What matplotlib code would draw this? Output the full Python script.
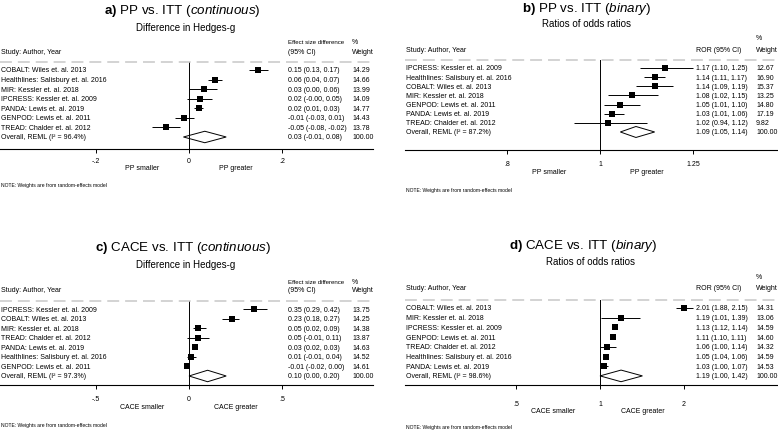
"""Four-panel forest plot: PP / CACE vs. ITT."""

import numpy as np
import matplotlib
matplotlib.use('Agg')
import matplotlib.pyplot as plt  # noqa: E402
from matplotlib.patches import Polygon  # noqa: E402
from matplotlib.ticker import FixedLocator, NullLocator  # noqa: E402
from matplotlib.transforms import blended_transform_factory  # noqa: E402

# ----------------------------------------------------------------------------
# Data (last entry of each panel is the pooled REML estimate)

a_labels = ['COBALT: Wiles et. al. 2013',
            'Healthlines: Salisbury et. al. 2016',
            'MIR: Kessler et. al. 2018',
            'IPCRESS: Kessler et. al. 2009',
            'PANDA: Lewis et. al. 2019',
            'GENPOD: Lewis et. al. 2011',
            'TREAD: Chalder et. al. 2012',
            'Overall, REML (I\u00b2 = 96.4%)']
a_est = [0.148, 0.056, 0.033, 0.024, 0.021, -0.011, -0.050, 0.034]
a_lo = [0.13, 0.04, 0.00, -0.004, 0.01, -0.03, -0.08, -0.012]
a_hi = [0.17, 0.07, 0.06, 0.05, 0.03, 0.01, -0.02, 0.08]
a_weight = [14.29, 14.66, 13.99, 14.09, 14.77, 14.43, 13.78, 100.00]

b_labels = ['IPCRESS: Kessler et. al. 2009',
            'Healthlines: Salisbury et. al. 2016',
            'COBALT: Wiles et. al. 2013',
            'MIR: Kessler et. al. 2018',
            'GENPOD: Lewis et. al. 2011',
            'PANDA: Lewis et. al. 2019',
            'TREAD: Chalder et. al. 2012',
            'Overall, REML (I\u00b2 = 87.2%)']
b_est = [1.17, 1.14, 1.14, 1.08, 1.05, 1.03, 1.02, 1.09]
b_lo = [1.10, 1.11, 1.09, 1.02, 1.01, 1.01, 0.94, 1.05]
b_hi = [1.25, 1.17, 1.19, 1.15, 1.10, 1.06, 1.12, 1.14]
b_weight = [12.67, 16.90, 15.37, 13.25, 14.80, 17.19, 9.82, 100.00]

c_labels = ['IPCRESS: Kessler et. al. 2009',
            'COBALT: Wiles et. al. 2013',
            'MIR: Kessler et. al. 2018',
            'TREAD: Chalder et. al. 2012',
            'PANDA: Lewis et. al. 2019',
            'Healthlines: Salisbury et. al. 2016',
            'GENPOD: Lewis et. al. 2011',
            'Overall, REML (I\u00b2 = 97.3%)']
c_est = [0.35, 0.23, 0.05, 0.05, 0.03, 0.01, -0.01, 0.10]
c_lo = [0.29, 0.18, 0.02, -0.01, 0.02, -0.01, -0.02, 0.00]
c_hi = [0.42, 0.27, 0.09, 0.11, 0.03, 0.04, 0.00, 0.20]
c_weight = [13.75, 14.25, 14.38, 13.87, 14.63, 14.52, 14.61, 100.00]

d_labels = ['COBALT: Wiles et. al. 2013',
            'MIR: Kessler et. al. 2018',
            'IPCRESS: Kessler et. al. 2009',
            'GENPOD: Lewis et. al. 2011',
            'TREAD: Chalder et. al. 2012',
            'Healthlines: Salisbury et. al. 2016',
            'PANDA: Lewis et. al. 2019',
            'Overall, REML (I\u00b2 = 98.6%)']
d_est = [2.01, 1.19, 1.13, 1.11, 1.06, 1.05, 1.03, 1.19]
d_lo = [1.88, 1.01, 1.12, 1.10, 1.00, 1.04, 1.00, 1.00]
d_hi = [2.15, 1.39, 1.14, 1.11, 1.14, 1.06, 1.07, 1.42]
d_weight = [14.31, 13.06, 14.59, 14.60, 14.32, 14.59, 14.53, 100.00]

a_ticks, a_ticklabels = [-0.2, 0, 0.2], ['-.2', '0', '.2']
b_ticks, b_ticklabels = [0.8, 1, 1.25], ['.8', '1', '1.25']
c_ticks, c_ticklabels = [-0.5, 0, 0.5], ['-.5', '0', '.5']
d_ticks, d_ticklabels = [0.5, 1, 2], ['.5', '1', '2']

NOTE = 'NOTE: Weights are from random-effects model'

# ----------------------------------------------------------------------------
# Style

W, H = 778, 431
plt.rcParams['font.family'] = ['Liberation Sans', 'DejaVu Sans']
plt.rcParams['mathtext.fontset'] = 'custom'
plt.rcParams['mathtext.rm'] = 'Liberation Sans'
plt.rcParams['mathtext.it'] = 'Liberation Sans:italic'
plt.rcParams['mathtext.bf'] = 'Liberation Sans:bold'

FS = 5.0


def fx(x):
    return x / W


def fy(y):
    return 1 - y / H


def draw_panel(fig, g, labels, est, lo, hi, wt, ticks, ticklabels):
    """Draw one forest plot; g holds the pixel geometry of the panel."""
    x0, x1, top, bot = g['x0'], g['x1'], g['top'], g['bot']
    ax = fig.add_axes([fx(x0), fy(bot), (x1 - x0) / W, (bot - top) / H])

    # Rows: row i sits at pixel row0 + i * step
    ytop = (top - g['row0']) / g['step']
    ybot = (bot - g['row0']) / g['step']
    ax.set_ylim(ybot, ytop)

    # x-limits from null-line pixel and pixels per unit
    lims = ((x0 - g['null']) / g['scale'], (x1 - g['null']) / g['scale'])
    if g['log']:
        ax.set_xscale('log')
        ax.set_xlim(np.exp(lims[0]), np.exp(lims[1]))
        null = 1
    else:
        ax.set_xlim(*lims)
        null = 0

    n = len(labels)
    wmax = max(wt[:-1])
    for i in range(n - 1):
        ax.hlines(i, lo[i], hi[i], color='black', lw=0.7)
        side = g['msize'] * np.sqrt(wt[i] / wmax) * 0.72
        ax.plot(est[i], i, 's', color='black', ms=side, mew=0)

    # Pooled diamond
    r = n - 1
    h = 0.6
    ax.add_patch(Polygon([(lo[r], r), (est[r], r - h), (hi[r], r),
                          (est[r], r + h)], closed=True, fc='white',
                         ec='black', lw=0.7))

    ax.axvline(null, color='black', lw=0.7)
    ax.axhline(ytop, color='#c8c8c8', lw=1.1, ls=(0, (7.8, 3.9)),
               clip_on=False)

    for s in ['top', 'left', 'right']:
        ax.spines[s].set_visible(False)
    ax.spines['bottom'].set_linewidth(0.8)
    ax.set_yticks([])
    ax.xaxis.set_major_locator(FixedLocator(ticks))
    ax.xaxis.set_minor_locator(NullLocator())
    ax.set_xticklabels(ticklabels)
    ax.tick_params(axis='x', length=3, width=0.7, labelsize=FS,
                   pad=g['pad'])
    ax.patch.set_visible(False)

    # Text columns
    tr = blended_transform_factory(fig.transFigure, ax.transData)
    for i in range(n):
        ax.text(fx(x0 + 1), i, labels[i], transform=tr, fontsize=FS,
                va='center', ha='left')
        ax.text(fx(g['vcol']), i,
                f'{est[i]:.2f} ({lo[i]:.2f}, {hi[i]:.2f})',
                transform=tr, fontsize=FS, va='center', ha='left')
        ax.text(fx(g['wcol']), i, f'{wt[i]:.2f}', transform=tr,
                fontsize=FS, va='center', ha='left')
    return ax


fig = plt.figure(figsize=(W / 100, H / 100), dpi=100)
fig.patch.set_facecolor('white')

panels = [
    dict(title=r'$\mathbf{a)}$ PP vs. ITT ($\mathit{continuous}$)',
         sub='Difference in Hedges-g', tx=182, ty=11, sx=186, sy=28,
         x0=0, x1=373, top=63, bot=150, row0=71, step=9.57, null=189,
         scale=465, log=False, msize=5.6, pad=2.5, vcol=288, wcol=352,
         head1=('Effect size difference', '(95% CI)'), hy1=42, hy2=52,
         side=('PP smaller', 'PP greater'), sidex=(142, 236), sidey=169,
         ny=186, data=(a_labels, a_est, a_lo, a_hi, a_weight),
         ticks=(a_ticks, a_ticklabels)),
    dict(title=r'$\mathbf{b)}$ PP vs. ITT ($\mathit{binary}$)',
         sub='Ratios of odds ratios', tx=587, ty=9, sx=586, sy=24,
         x0=405, x1=778, top=61, bot=151, row0=69, step=9.14, null=600,
         scale=417, log=True, msize=6.8, pad=4, vcol=696, wcol=756,
         head1=(None, 'ROR (95% CI)'), hy1=39, hy2=50,
         side=('PP smaller', 'PP greater'), sidex=(549, 647), sidey=173,
         ny=191, data=(b_labels, b_est, b_lo, b_hi, b_weight),
         ticks=(b_ticks, b_ticklabels)),
    dict(title=r'$\mathbf{c)}$ CACE vs. ITT ($\mathit{continuous}$)',
         sub='Difference in Hedges-g', tx=183, ty=248, sx=186, sy=265,
         x0=0, x1=373, top=302, bot=386, row0=310, step=9.57, null=189,
         scale=186, log=False, msize=5.3, pad=4, vcol=288, wcol=352,
         head1=('Effect size difference', '(95% CI)'), hy1=282, hy2=291,
         side=('CACE smaller', 'CACE greater'), sidex=(142, 236),
         sidey=408, ny=426, data=(c_labels, c_est, c_lo, c_hi, c_weight),
         ticks=(c_ticks, c_ticklabels)),
    dict(title=r'$\mathbf{d)}$ CACE vs. ITT ($\mathit{binary}$)',
         sub='Ratios of odds ratios', tx=583, ty=246, sx=591, sy=262,
         x0=405, x1=778, top=301, bot=386, row0=309, step=9.7, null=600,
         scale=121, log=True, msize=5.3, pad=8, vcol=696, wcol=756,
         head1=(None, 'ROR (95% CI)'), hy1=278, hy2=289,
         side=('CACE smaller', 'CACE greater'), sidex=(553, 643),
         sidey=412, ny=428, data=(d_labels, d_est, d_lo, d_hi, d_weight),
         ticks=(d_ticks, d_ticklabels)),
]

for g in panels:
    draw_panel(fig, g, *g['data'], *g['ticks'])

    # Titles
    fig.text(fx(g['tx']), fy(g['ty']), g['title'], fontsize=9.6,
             ha='center', va='center')
    fig.text(fx(g['sx']), fy(g['sy']), g['sub'], fontsize=7.0,
             ha='center', va='center')

    # Column headers
    if g['head1'][0]:
        fig.text(fx(g['vcol']), fy(g['hy1']), g['head1'][0], fontsize=4.4,
                 ha='left', va='center')
    fig.text(fx(g['wcol']), fy(g['hy1']), '%', fontsize=FS, ha='left',
             va='center')
    fig.text(fx(g['x0'] + 1), fy(g['hy2']), 'Study: Author, Year',
             fontsize=FS, ha='left', va='center')
    fig.text(fx(g['vcol']), fy(g['hy2']), g['head1'][1], fontsize=FS,
             ha='left', va='center')
    fig.text(fx(g['wcol']), fy(g['hy2']), 'Weight', fontsize=FS,
             ha='left', va='center')

    # Direction labels under the axis
    for lab, x in zip(g['side'], g['sidex']):
        fig.text(fx(x), fy(g['sidey']), lab, fontsize=FS, ha='center',
                 va='center')

    fig.text(fx(g['x0'] + 1), fy(g['ny']), NOTE, fontsize=3.6, ha='left',
             va='center')

fig.savefig('out.png', dpi=100, facecolor='white')
